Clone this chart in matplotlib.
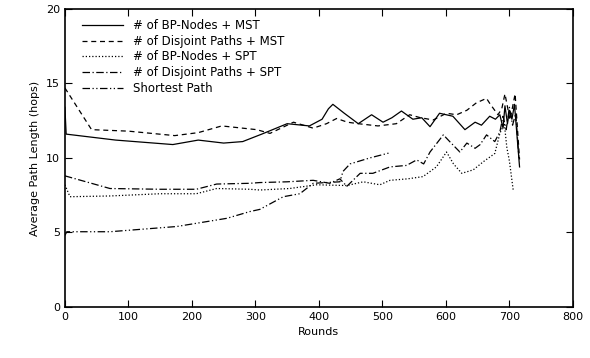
import matplotlib
matplotlib.use("Agg")
import matplotlib.pyplot as plt

# BP-Nodes + MST
bp_mst_x = [0, 2, 80, 170, 210, 250, 280, 310, 350, 385, 405, 415, 422, 440, 462, 483, 501, 515, 530, 548, 562, 575, 590, 611, 630, 646, 656, 669, 678, 685, 690, 693, 697, 700, 704, 708, 712, 716]
bp_mst_y = [13.4, 11.6, 11.2, 10.9, 11.2, 11.0, 11.1, 11.6, 12.3, 12.15, 12.6, 13.3, 13.6, 13.0, 12.3, 12.9, 12.4, 12.7, 13.15, 12.6, 12.7, 12.1, 13.0, 12.8, 11.9, 12.4, 12.2, 12.8, 12.6, 12.9, 12.0, 13.5, 12.3, 13.2, 12.6, 13.6, 11.5, 9.4]

# Disjoint Paths + MST
dp_mst_x = [0, 42, 100, 173, 210, 247, 280, 302, 323, 360, 391, 412, 428, 445, 462, 493, 522, 543, 560, 580, 601, 617, 633, 648, 664, 670, 682, 688, 693, 701, 709, 716]
dp_mst_y = [14.7, 11.9, 11.8, 11.5, 11.7, 12.15, 12.0, 11.9, 11.65, 12.4, 12.0, 12.3, 12.65, 12.4, 12.3, 12.15, 12.3, 12.9, 12.7, 12.55, 13.0, 12.9, 13.2, 13.7, 14.0, 13.6, 12.9, 13.3, 14.3, 12.55, 14.3, 9.9]

# BP-Nodes + SPT
bp_spt_x = [0, 8, 71, 150, 207, 239, 291, 307, 354, 396, 444, 470, 496, 512, 540, 564, 585, 601, 612, 625, 643, 659, 677, 685, 692, 696, 700, 706]
bp_spt_y = [8.2, 7.4, 7.45, 7.6, 7.6, 7.95, 7.9, 7.85, 7.95, 8.2, 8.15, 8.4, 8.2, 8.5, 8.6, 8.75, 9.4, 10.4, 9.6, 8.97, 9.2, 9.75, 10.3, 11.65, 12.3, 10.7, 9.8, 7.85]

# Disjoint Paths + SPT
dp_spt_x = [0, 71, 150, 207, 239, 291, 307, 350, 391, 417, 433, 444, 465, 485, 512, 538, 554, 565, 575, 596, 606, 622, 633, 646, 654, 664, 677, 685, 690, 695, 700, 705, 710, 715]
dp_spt_y = [8.8, 7.95, 7.9, 7.9, 8.25, 8.3, 8.35, 8.4, 8.5, 8.3, 8.6, 8.1, 8.97, 8.97, 9.4, 9.5, 9.87, 9.6, 10.4, 11.55, 11.1, 10.4, 11.0, 10.65, 10.9, 11.55, 11.1, 11.75, 12.8, 11.9, 13.4, 12.2, 13.0, 10.0]

# Shortest Path
sp_x = [0, 3, 71, 176, 255, 291, 307, 344, 370, 391, 433, 438, 449, 480, 512]
sp_y = [4.8, 5.05, 5.05, 5.4, 5.95, 6.4, 6.55, 7.4, 7.6, 8.3, 8.4, 9.1, 9.6, 10.0, 10.35]

labels = ["# of BP-Nodes + MST", "# of Disjoint Paths + MST", "# of BP-Nodes + SPT",
          "# of Disjoint Paths + SPT", "Shortest Path"]

fig = plt.figure(figsize=(5.9, 3.58), dpi=100)
ax = fig.add_axes([0.110, 0.1425, 0.861, 0.8325])

lw = 0.9
ax.plot(bp_mst_x, bp_mst_y, color="black", lw=lw, linestyle="-", label=labels[0])
ax.plot(dp_mst_x, dp_mst_y, color="black", lw=lw, linestyle=(0, (4, 3)), label=labels[1])
ax.plot(bp_spt_x, bp_spt_y, color="black", lw=lw, linestyle=(0, (1, 1.6)), label=labels[2])
ax.plot(dp_spt_x, dp_spt_y, color="black", lw=lw, linestyle=(0, (6, 2, 1, 2)), label=labels[3])
ax.plot(sp_x, sp_y, color="black", lw=lw, linestyle=(0, (6, 2, 1, 2, 1, 2)), label=labels[4])

ax.set_xlim(0, 800)
ax.set_ylim(0, 20)
ax.set_xticks(range(0, 801, 100))
ax.set_yticks(range(0, 21, 5))
ax.tick_params(direction="in", top=True, right=True, length=5, labelsize=8)
for s in ax.spines.values():
    s.set_linewidth(1.2)
ax.set_xlabel("Rounds", fontsize=8)
ax.set_ylabel("Average Path Length (hops)", fontsize=8)

ax.legend(loc="upper left", bbox_to_anchor=(0.01, 1.008), frameon=False, fontsize=8.5,
          handlelength=3.4, labelspacing=0.23, borderaxespad=0.75, borderpad=0.3,
          handletextpad=0.85)

fig.savefig("out.png", dpi=100)
